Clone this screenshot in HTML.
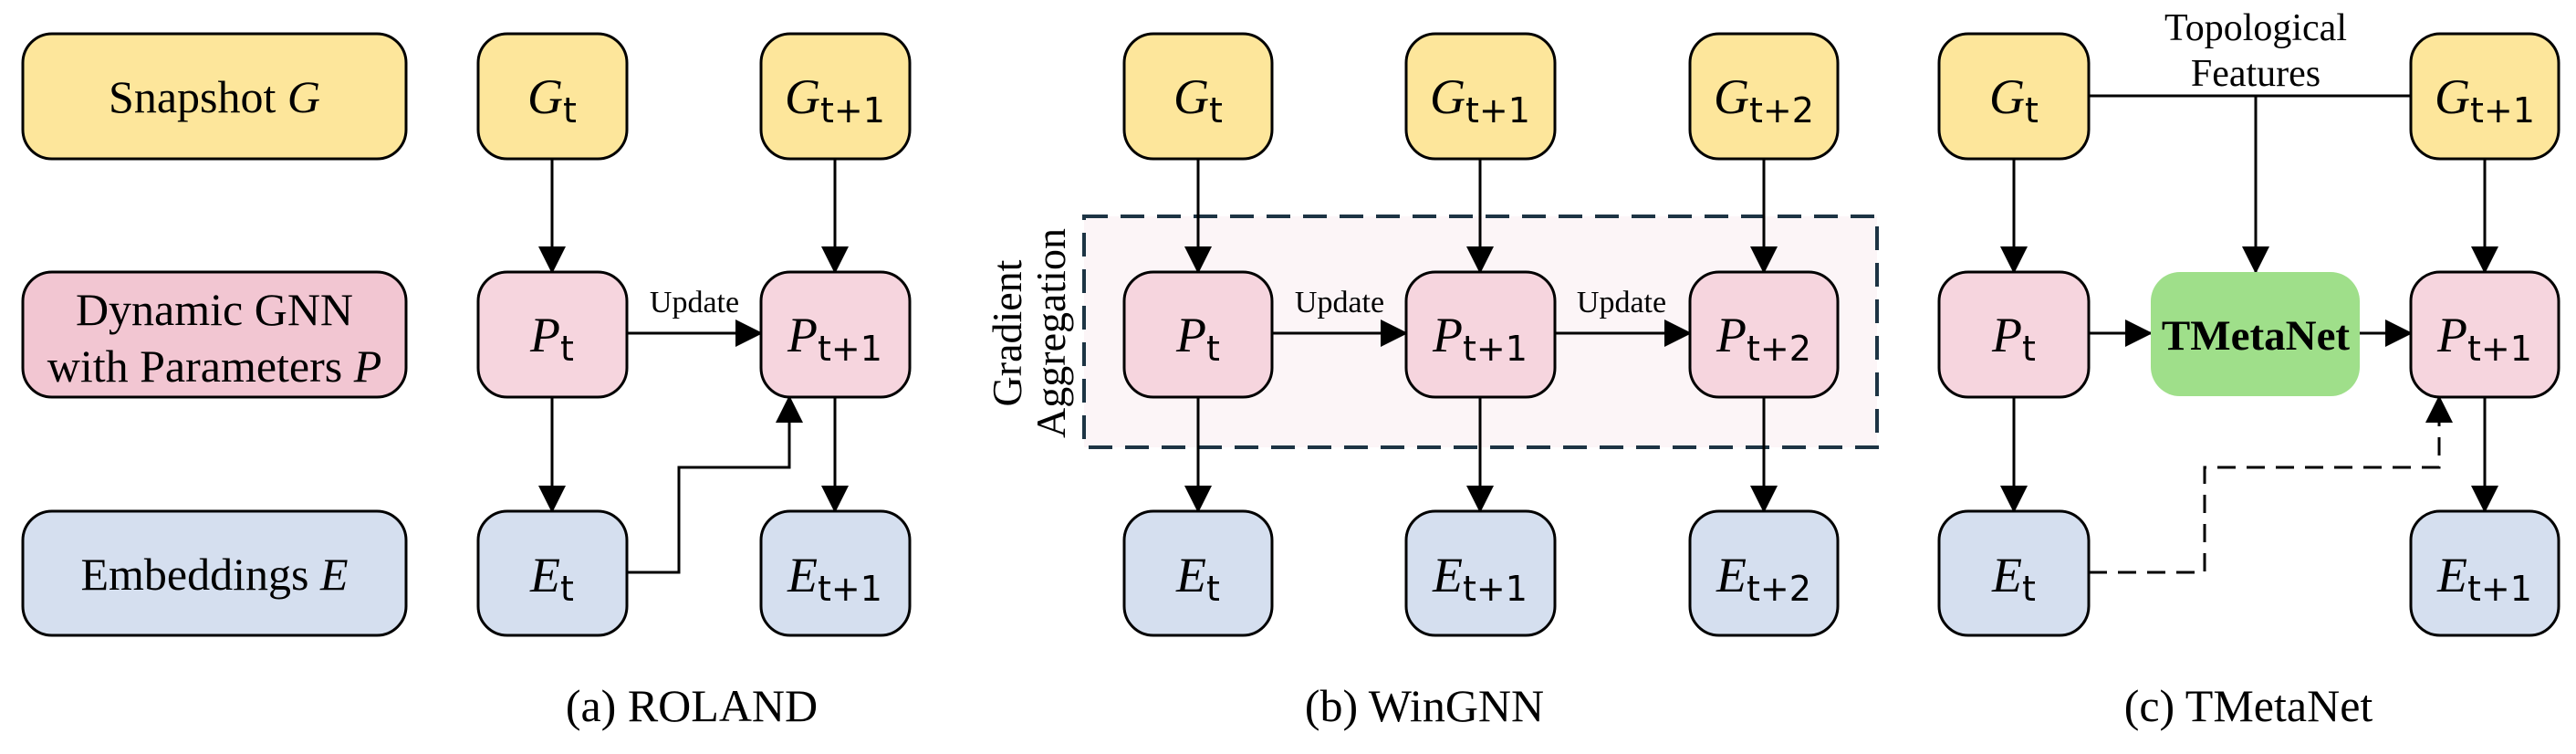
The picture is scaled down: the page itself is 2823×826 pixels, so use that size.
<!DOCTYPE html>
<html><head><meta charset="utf-8"><style>
html,body{margin:0;padding:0;background:#fff;}
svg{display:block;}
.s{font-family:"Liberation Serif",serif;}
.m{font-family:"Liberation Serif",serif;font-style:italic;font-size:54px;}
.sub{font-family:"DejaVu Sans","Liberation Sans",sans-serif;font-style:normal;font-size:38px;}
</style></head><body>
<svg width="2823" height="826" viewBox="0 0 2823 826" xmlns="http://www.w3.org/2000/svg">
<defs>
<marker id="ah" markerWidth="30" markerHeight="30" refX="28" refY="15" orient="auto" markerUnits="userSpaceOnUse">
<path d="M0,0 L30,15 L0,30 Z" fill="#000"/>
</marker>
</defs>
<g stroke="#000" stroke-width="3">
<rect x="25" y="37" width="420" height="137" rx="32" fill="#fde69b"/>
<rect x="25" y="298" width="420" height="137" rx="32" fill="#f2c6d2"/>
<rect x="25" y="560" width="420" height="136" rx="32" fill="#d5dfef"/>
<rect x="1188" y="237" width="869" height="253" fill="#fcf5f7" stroke="#1d3444" stroke-width="4" stroke-dasharray="26,14"/>
</g>
<g class="s" font-size="50" text-anchor="middle">
<text x="235" y="123">Snapshot <tspan font-style="italic">G</tspan></text>
<text x="235" y="356">Dynamic GNN</text>
<text x="235" y="418">with Parameters <tspan font-style="italic">P</tspan></text>
<text x="235" y="646">Embeddings <tspan font-style="italic">E</tspan></text>
</g>
<g stroke="#000" stroke-width="3" fill="none">
<line x1="605" y1="174" x2="605" y2="298" marker-end="url(#ah)"/>
<line x1="605" y1="435" x2="605" y2="560" marker-end="url(#ah)"/>
<line x1="915" y1="174" x2="915" y2="298" marker-end="url(#ah)"/>
<line x1="915" y1="435" x2="915" y2="560" marker-end="url(#ah)"/>
<line x1="687" y1="365" x2="834" y2="365" marker-end="url(#ah)"/>
<polyline points="687,627 744,627 744,512 865,512 865,435" marker-end="url(#ah)"/>
<line x1="1313" y1="174" x2="1313" y2="298" marker-end="url(#ah)"/>
<line x1="1313" y1="435" x2="1313" y2="560" marker-end="url(#ah)"/>
<line x1="1622" y1="174" x2="1622" y2="298" marker-end="url(#ah)"/>
<line x1="1622" y1="435" x2="1622" y2="560" marker-end="url(#ah)"/>
<line x1="1933" y1="174" x2="1933" y2="298" marker-end="url(#ah)"/>
<line x1="1933" y1="435" x2="1933" y2="560" marker-end="url(#ah)"/>
<line x1="1394" y1="365" x2="1541" y2="365" marker-end="url(#ah)"/>
<line x1="1704" y1="365" x2="1852" y2="365" marker-end="url(#ah)"/>
<line x1="2207" y1="174" x2="2207" y2="298" marker-end="url(#ah)"/>
<line x1="2207" y1="435" x2="2207" y2="560" marker-end="url(#ah)"/>
<line x1="2723" y1="174" x2="2723" y2="298" marker-end="url(#ah)"/>
<line x1="2723" y1="435" x2="2723" y2="560" marker-end="url(#ah)"/>
<line x1="2289" y1="105" x2="2642" y2="105"/>
<line x1="2472" y1="105" x2="2472" y2="298" marker-end="url(#ah)"/>
<line x1="2289" y1="365" x2="2357" y2="365" marker-end="url(#ah)"/>
<line x1="2586" y1="365" x2="2642" y2="365" marker-end="url(#ah)"/>
<polyline points="2289,627 2416,627 2416,512 2673,512 2673,435" stroke-dasharray="20,12" marker-end="url(#ah)"/>
</g>
<g stroke="#000" stroke-width="3">
<rect x="524" y="37" width="163" height="137" rx="32" fill="#fde69b"/>
<rect x="834" y="37" width="163" height="137" rx="32" fill="#fde69b"/>
<rect x="524" y="298" width="163" height="137" rx="32" fill="#f6d5de"/>
<rect x="834" y="298" width="163" height="137" rx="32" fill="#f6d5de"/>
<rect x="524" y="560" width="163" height="136" rx="32" fill="#d5dfef"/>
<rect x="834" y="560" width="163" height="136" rx="32" fill="#d5dfef"/>
<rect x="1232" y="37" width="162" height="137" rx="32" fill="#fde69b"/>
<rect x="1541" y="37" width="163" height="137" rx="32" fill="#fde69b"/>
<rect x="1852" y="37" width="162" height="137" rx="32" fill="#fde69b"/>
<rect x="1232" y="298" width="162" height="137" rx="32" fill="#f6d5de"/>
<rect x="1541" y="298" width="163" height="137" rx="32" fill="#f6d5de"/>
<rect x="1852" y="298" width="162" height="137" rx="32" fill="#f6d5de"/>
<rect x="1232" y="560" width="162" height="136" rx="32" fill="#d5dfef"/>
<rect x="1541" y="560" width="163" height="136" rx="32" fill="#d5dfef"/>
<rect x="1852" y="560" width="162" height="136" rx="32" fill="#d5dfef"/>
<rect x="2125" y="37" width="164" height="137" rx="32" fill="#fde69b"/>
<rect x="2642" y="37" width="162" height="137" rx="32" fill="#fde69b"/>
<rect x="2125" y="298" width="164" height="137" rx="32" fill="#f6d5de"/>
<rect x="2642" y="298" width="162" height="137" rx="32" fill="#f6d5de"/>
<rect x="2125" y="560" width="164" height="136" rx="32" fill="#d5dfef"/>
<rect x="2642" y="560" width="162" height="136" rx="32" fill="#d5dfef"/>
</g>
<rect x="2357" y="298" width="229" height="136" rx="32" fill="#9fdf8a"/>
<g class="m" text-anchor="middle">
<text x="605" y="124">G<tspan class="sub" dy="10">t</tspan></text>
<text x="915" y="124">G<tspan class="sub" dy="10">t+1</tspan></text>
<text x="605" y="385">P<tspan class="sub" dy="10">t</tspan></text>
<text x="915" y="385">P<tspan class="sub" dy="10">t+1</tspan></text>
<text x="605" y="648">E<tspan class="sub" dy="10">t</tspan></text>
<text x="915" y="648">E<tspan class="sub" dy="10">t+1</tspan></text>
<text x="1313" y="124">G<tspan class="sub" dy="10">t</tspan></text>
<text x="1622" y="124">G<tspan class="sub" dy="10">t+1</tspan></text>
<text x="1933" y="124">G<tspan class="sub" dy="10">t+2</tspan></text>
<text x="1313" y="385">P<tspan class="sub" dy="10">t</tspan></text>
<text x="1622" y="385">P<tspan class="sub" dy="10">t+1</tspan></text>
<text x="1933" y="385">P<tspan class="sub" dy="10">t+2</tspan></text>
<text x="1313" y="648">E<tspan class="sub" dy="10">t</tspan></text>
<text x="1622" y="648">E<tspan class="sub" dy="10">t+1</tspan></text>
<text x="1933" y="648">E<tspan class="sub" dy="10">t+2</tspan></text>
<text x="2207" y="124">G<tspan class="sub" dy="10">t</tspan></text>
<text x="2723" y="124">G<tspan class="sub" dy="10">t+1</tspan></text>
<text x="2207" y="385">P<tspan class="sub" dy="10">t</tspan></text>
<text x="2723" y="385">P<tspan class="sub" dy="10">t+1</tspan></text>
<text x="2207" y="648">E<tspan class="sub" dy="10">t</tspan></text>
<text x="2723" y="648">E<tspan class="sub" dy="10">t+1</tspan></text>
</g>
<g class="s" text-anchor="middle">
<text x="761" y="342" font-size="34">Update</text>
<text x="1468" y="342" font-size="34">Update</text>
<text x="1777" y="342" font-size="34">Update</text>
<text x="2472" y="44" font-size="42">Topological</text>
<text x="2472" y="94" font-size="42">Features</text>
<text x="2472" y="383" font-size="47" font-weight="bold">TMetaNet</text>
<g font-size="46" transform="translate(1131,365) rotate(-90)">
<text x="0" y="-12">Gradient</text>
<text x="0" y="36">Aggregation</text>
</g>
<text x="758" y="790" font-size="50">(a) ROLAND</text>
<text x="1561" y="790" font-size="50">(b) WinGNN</text>
<text x="2464" y="790" font-size="50">(c) TMetaNet</text>
</g>
</svg>
</body></html>
